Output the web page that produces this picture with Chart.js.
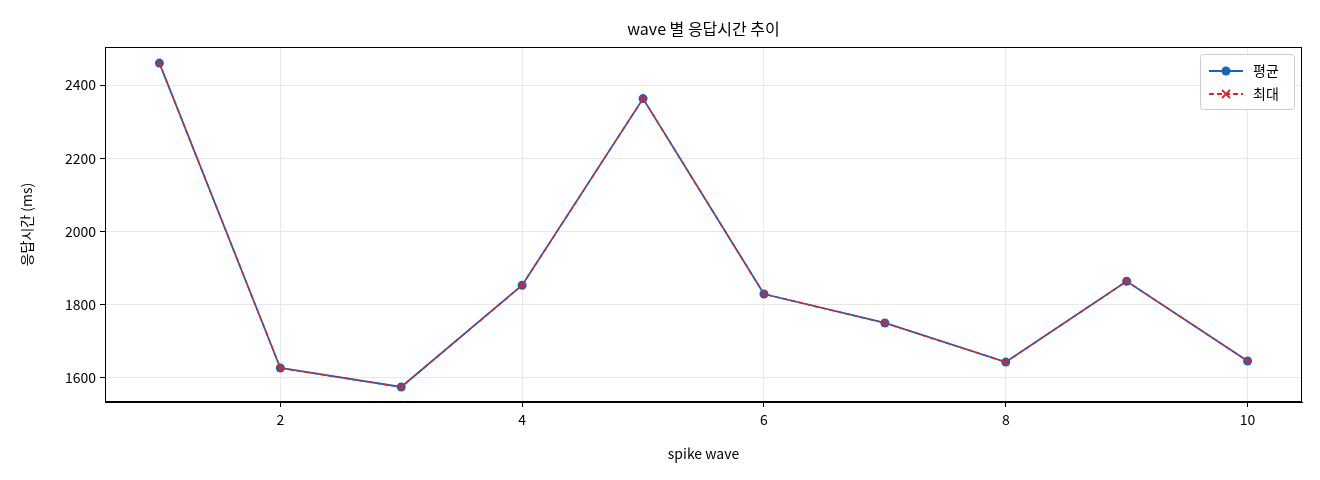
<!DOCTYPE html>
<html><head><meta charset="utf-8">
<script src="https://cdn.jsdelivr.net/npm/chart.js@4"></script>
<style>html,body{margin:0;padding:0;background:#fff}#w{width:1320px;height:480px}</style>
</head><body><div id="w"><canvas id="c"></canvas></div>
<script>
const waves=[1,2,3,4,5,6,7,8,9,10];
const avgVals=[2460,1627,1575,1853,2363,1829,1750,1643,1864,1646];
const maxVals=[2460,1627,1575,1853,2363,1829,1750,1643,1864,1646];
const xTicks=[2,4,6,8,10];
const yTicks=[1600,1800,2000,2200,2400];
const F='"Noto Sans CJK KR","Noto Sans",sans-serif';
const frame={id:'frame',afterDraw(ch){const a=ch.chartArea,c=ch.ctx;c.save();
c.strokeStyle='#000';c.lineWidth=1;c.strokeRect(a.left+0.5,a.top+0.5,a.right-a.left-1,a.bottom-a.top-1);
c.fillStyle='#000';c.font='16px '+F;c.textAlign='center';c.textBaseline='middle';
c.fillText('wave 별 응답시간 추이',(a.left+a.right)/2,29);
const bx=a.right-102,by=a.top+7,bw=94,bh=55;
c.fillStyle='rgba(255,255,255,0.85)';c.strokeStyle='#ccc';c.beginPath();c.roundRect(bx+0.5,by+0.5,bw,bh,3);c.fill();c.stroke();
const items=[['평균','#1565c0',[],'c'],['최대','#d62728',[5,3],'x']];
items.forEach((it,i)=>{const y=by+17+i*23,x0=bx+9,x1=x0+34;
c.strokeStyle=it[1];c.lineWidth=1.8;c.setLineDash(it[2]);c.beginPath();c.moveTo(x0,y);c.lineTo(x1,y);c.stroke();c.setLineDash([]);
const mx=(x0+x1)/2;if(it[3]==='c'){c.fillStyle=it[1];c.beginPath();c.arc(mx,y,4.5,0,7);c.fill();}
else{c.beginPath();c.moveTo(mx-4,y-4);c.lineTo(mx+4,y+4);c.moveTo(mx+4,y-4);c.lineTo(mx-4,y+4);c.stroke();}
c.fillStyle='#000';c.font='14px '+F;c.textAlign='left';c.fillText(it[0],x1+10,y);});
c.restore();}};
new Chart(document.getElementById('c'),{type:'line',
data:{datasets:[
{label:'평균',order:1,data:waves.map((w,i)=>({x:w,y:avgVals[i]})),borderColor:'#1565c0',backgroundColor:'#1565c0',borderWidth:1.8,pointRadius:4.5,pointStyle:'circle',pointBorderWidth:0},
{label:'최대',order:0,data:waves.map((w,i)=>({x:w,y:maxVals[i]})),borderColor:'#d62728',backgroundColor:'#d62728',borderWidth:1.5,borderDash:[5,3],pointRadius:4,pointStyle:'crossRot',pointBorderWidth:1.8}
]},
plugins:[frame],
options:{responsive:true,maintainAspectRatio:false,animation:false,
layout:{padding:{top:47,right:18,left:0,bottom:0}},
plugins:{legend:{display:false},tooltip:{enabled:false}},
scales:{
x:{type:'linear',min:0.55,max:10.45,afterBuildTicks(s){s.ticks=xTicks.map(v=>({value:v}));},afterFit(s){s.height=78;},
grid:{color:'#e8e8e8',tickColor:'#000',tickLength:5},border:{color:'#000'},
ticks:{color:'#000',font:{family:F,size:14},padding:4,callback:v=>String(v)},
title:{display:true,text:'spike wave',color:'#000',font:{family:F,size:14},padding:{top:6,bottom:18}}},
y:{min:1534,max:2504,afterBuildTicks(s){s.ticks=yTicks.map(v=>({value:v}));},afterFit(s){s.width=105;},
grid:{color:'#e8e8e8',tickColor:'#000',tickLength:5},border:{color:'#000'},
ticks:{color:'#000',font:{family:F,size:14},padding:4,callback:v=>String(v)},
title:{display:true,text:'응답시간 (ms)',color:'#000',font:{family:F,size:14},padding:{top:18,bottom:8}}}
}}});
</script></body></html>
